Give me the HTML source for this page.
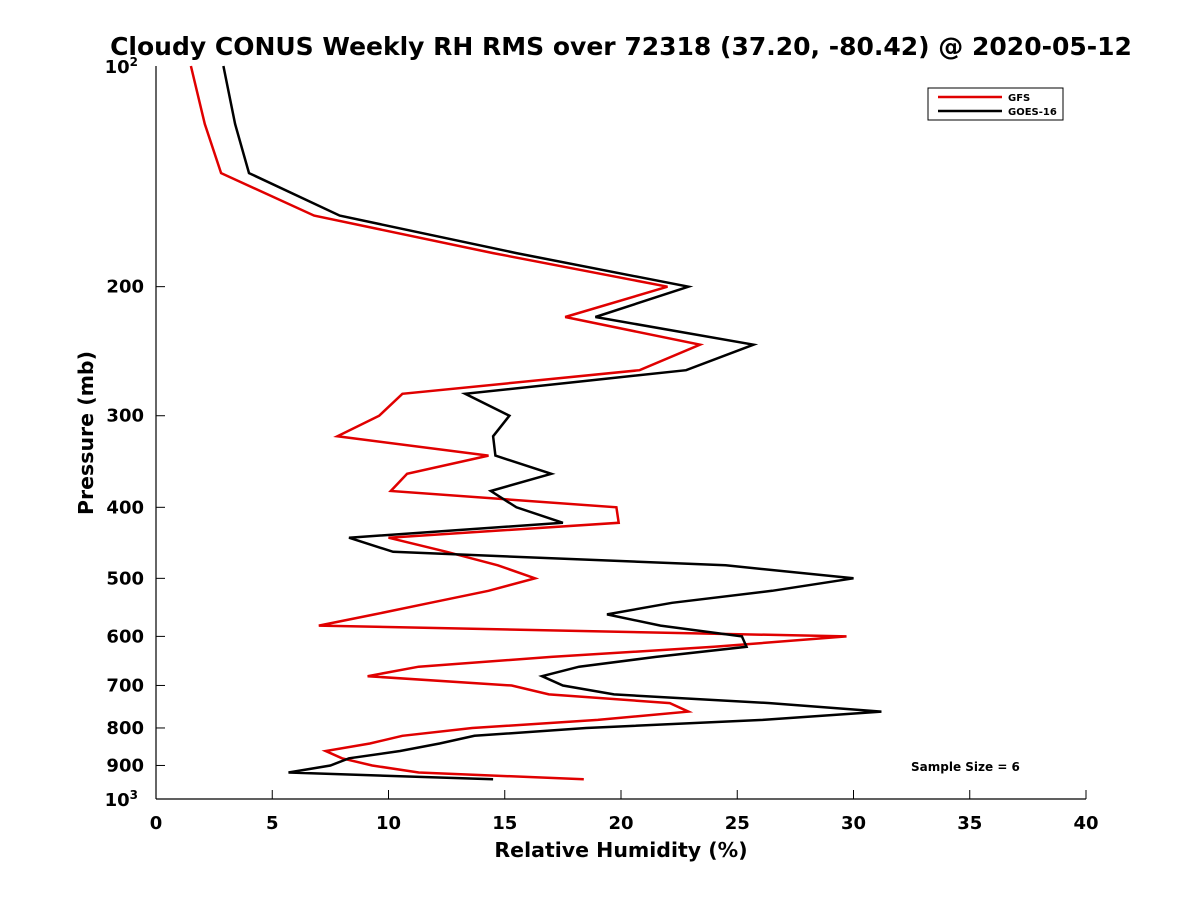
<!DOCTYPE html>
<html><head><meta charset="utf-8"><style>
body{margin:0;background:#fff;}
svg text{font-family:"DejaVu Sans","Liberation Sans",sans-serif;font-weight:bold;}
</style></head><body>
<svg id="chart" width="1200" height="900" xmlns="http://www.w3.org/2000/svg">
<rect width="1200" height="900" fill="#fff"/>
<text x="621" y="55" text-anchor="middle" font-size="25">Cloudy CONUS Weekly RH RMS over 72318 (37.20, -80.42) @ 2020-05-12</text>
<g id="axes"></g>
<g id="series"></g>
<line x1="156" y1="66" x2="156" y2="799" stroke="#000" stroke-width="1.2"/>
<line x1="156" y1="799" x2="1086" y2="799" stroke="#000" stroke-width="1.2"/>
<text x="621" y="857" text-anchor="middle" font-size="20.5">Relative Humidity (%)</text>
<text transform="translate(93,433) rotate(-90)" text-anchor="middle" font-size="20.5">Pressure (mb)</text>
<g>
<rect x="928" y="88" width="135" height="32" fill="#fff" stroke="#000" stroke-width="1"/>
<line x1="938" y1="97" x2="1002" y2="97" stroke="#e00000" stroke-width="2.5"/>
<text x="1008" y="101" font-size="10">GFS</text>
<line x1="938" y1="111" x2="1002" y2="111" stroke="#000" stroke-width="2.5"/>
<text x="1008" y="115" font-size="10">GOES-16</text>
</g>
<text x="911" y="771" font-size="12">Sample Size = 6</text>
</svg>
<script>
const pressures=[100,120,140,160,180,200,220,240,260,280,300,320,340,360,380,400,420,440,460,480,500,520,540,560,580,600,620,640,660,680,700,720,740,760,780,800,820,840,860,880,900,920,940];
const gfsValues=[1.5,2.1,2.8,6.8,14.5,22,17.6,23.4,20.8,10.6,9.6,7.8,14.3,10.8,10.1,19.8,19.9,10.0,12.5,14.7,16.3,14.3,11.8,9.4,7.0,29.7,24,17,11.3,9.1,15.3,16.9,22.1,22.9,19,13.6,10.6,9.2,7.3,8.0,9.3,11.3,18.4];
const goesValues=[2.9,3.4,4.0,7.9,15.5,22.9,18.9,25.7,22.8,13.3,15.2,14.5,14.6,17.0,14.4,15.5,17.5,8.3,10.2,24.5,30.0,26.5,22.2,19.4,21.7,25.2,25.4,21.5,18.2,16.6,17.5,19.7,26.4,31.2,26.1,18.5,13.7,12.2,10.5,8.3,7.5,5.7,14.5];
const xTicks=[0,5,10,15,20,25,30,35,40];
const yTicks=[200,300,400,500,600,700,800,900];
const X=v=>156+v*930/40;
const Y=p=>66+733*Math.log10(p/100);
const NS="http://www.w3.org/2000/svg";
const axes=document.getElementById('axes');
function mk(t,a,parent){const e=document.createElementNS(NS,t);for(const k in a)e.setAttribute(k,a[k]);parent.appendChild(e);return e;}
xTicks.forEach(v=>{
 const l=mk('line',{x1:X(v),x2:X(v),y1:799,y2:790,stroke:'#000'},axes);
 
 
 const t=mk('text',{x:X(v),y:829,'text-anchor':'middle','font-size':18},axes);t.textContent=v;
 
 
});
yTicks.forEach(p=>{
 const l=mk('line',{x1:156,x2:165,y1:Y(p),y2:Y(p),stroke:'#000'},axes);
 
 
 const t=mk('text',{x:144,y:Y(p)+6,'text-anchor':'end','font-size':18},axes);t.textContent=p;
 
 
});
[[100,'2'],[1000,'3']].forEach(([p,e])=>{
 const t=mk('text',{x:138,y:Y(p)+7,'text-anchor':'end','font-size':18},axes);
 
 
 t.textContent='10';
 const s=mk('tspan',{dy:-7,'font-size':12},t);s.textContent=e;
});
const series=document.getElementById('series');
[[gfsValues,'#e00000','gfs-line'],[goesValues,'#000','goes16-line']].forEach(([vals,c,n])=>{
 const pts=vals.map((v,i)=>X(v).toFixed(1)+','+Y(pressures[i]).toFixed(1)).join(' ');
 const pl=mk('polyline',{points:pts,fill:'none',stroke:c,'stroke-width':2.5,'stroke-linejoin':'miter'},series);
 
 
});
</script>
</body></html>
